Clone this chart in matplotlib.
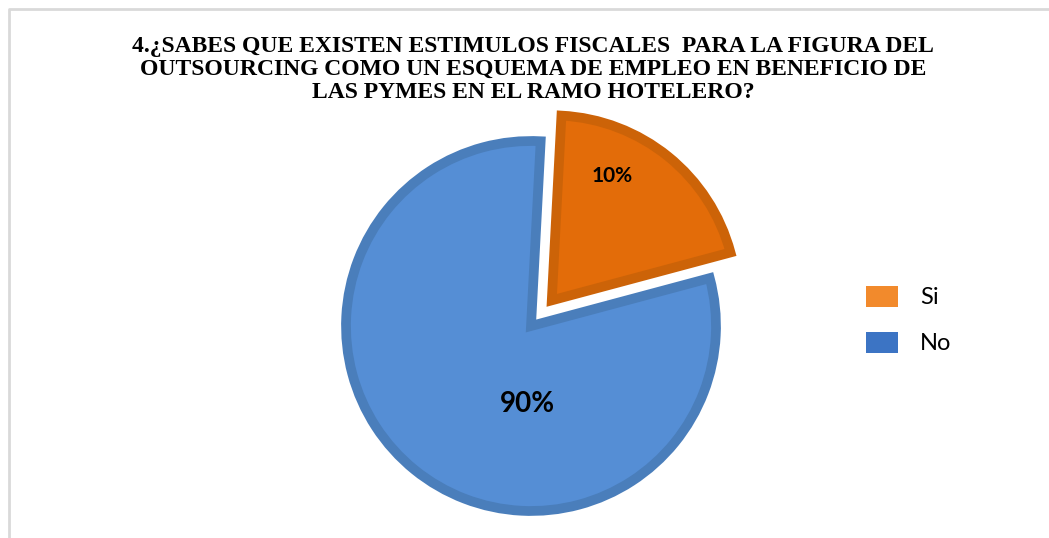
import matplotlib.pyplot as plt
from matplotlib.patches import Patch

# data
categorias = ["Si", "No"]
valores = [20, 80]          # slice sizes as drawn
etiquetas = ["10%", "90%"]  # labels as printed on the chart
colores = ["#e36c09", "#558ed5"]
bordes = ["#cc6308", "#4a7ebb"]
colores_leyenda = ["#f28a2c", "#3c74c4"]

titulo = ("4.¿SABES QUE EXISTEN ESTIMULOS FISCALES  PARA LA FIGURA DEL\n"
          "OUTSOURCING COMO UN ESQUEMA DE EMPLEO EN BENEFICIO DE\n"
          "LAS PYMES EN EL RAMO HOTELERO?")

W, H = 1049, 538
fig = plt.figure(figsize=(W / 100, H / 100), dpi=100)
ax = fig.add_axes([0, 0, 1, 1])

# light frame of the chart area
ax.plot([9, 9, W], [0, H - 9, H - 9], color="#d9d9d9", lw=2, solid_capstyle="butt")

# explode is in data units here (pixels), since radius is not 1
wedges, _ = ax.pie(valores, colors=colores, explode=[33, 0], startangle=87,
                   counterclock=False, center=(531, H - 326), radius=185,
                   wedgeprops=dict(linewidth=7, joinstyle="miter"), frame=True)
for w, b in zip(wedges, bordes):
    w.set_edgecolor(b)
ax.set_xlim(0, W)
ax.set_ylim(0, H)
ax.axis("off")

# percentage labels
ax.text(612, H - 176, etiquetas[0], fontsize=15, fontweight="bold",
        family="Lato", ha="center", va="center")
ax.text(527, H - 404, etiquetas[1], fontsize=20, fontweight="bold",
        family="Lato", ha="center", va="center")

ax.text(533, H - 36, titulo, fontsize=17, fontweight="bold", family="Liberation Serif",
        ha="center", va="top", linespacing=1.14)

handles = [Patch(facecolor=c, edgecolor="none") for c in colores_leyenda]
leg = ax.legend(handles, categorias, loc="upper left", bbox_to_anchor=(866 / W, 1 - 286 / H),
                frameon=False, prop={"family": "Lato", "size": 17},
                borderpad=0, borderaxespad=0,
                handlelength=1.36, handleheight=0.97, handletextpad=0.93, labelspacing=1.0)

fig.savefig("out.png", dpi=100)
